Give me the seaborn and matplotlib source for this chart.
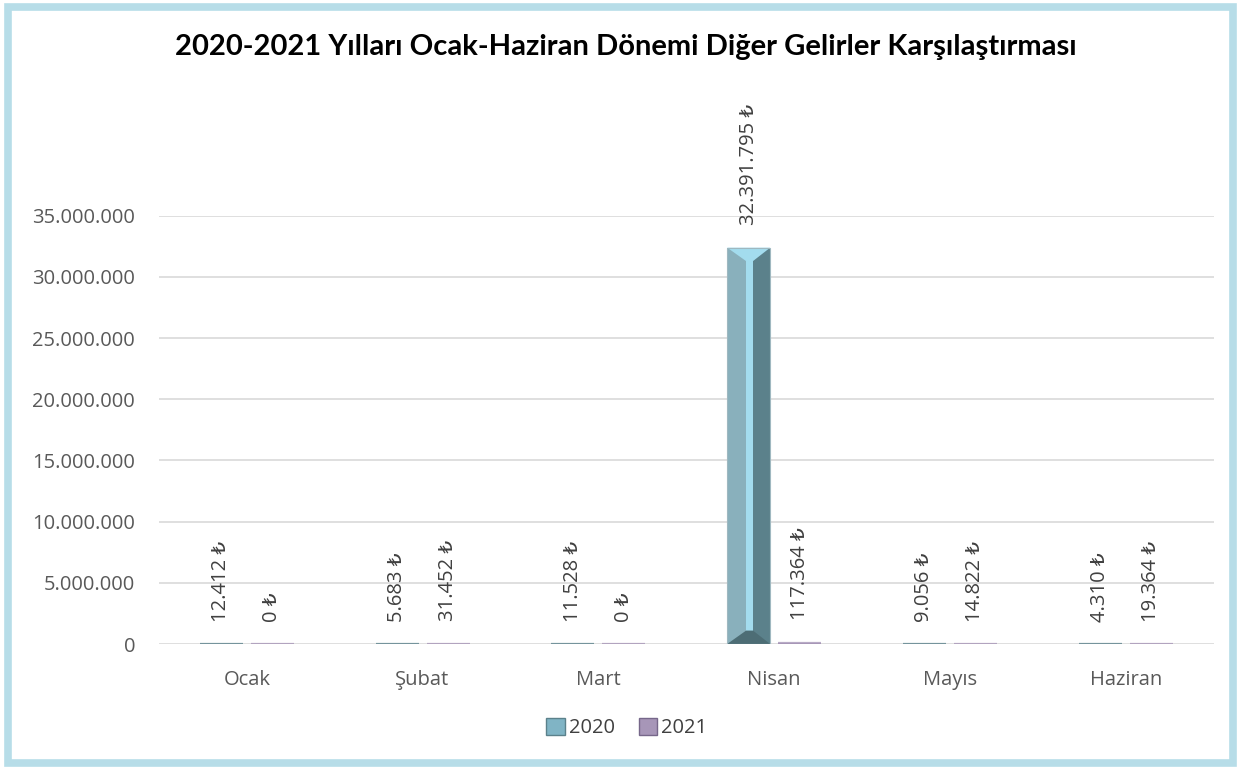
import pandas as pd
import seaborn as sns
import matplotlib.pyplot as plt
from matplotlib.patches import Rectangle, Polygon, Patch
from matplotlib.ticker import FuncFormatter

# data
months = ['Ocak', 'Şubat', 'Mart', 'Nisan', 'Mayıs', 'Haziran']
gelir_2020 = [12412, 5683, 11528, 32391795, 9056, 4310]
gelir_2021 = [0, 31452, 0, 117364, 14822, 19364]
years = ['2020', '2021']

df = pd.DataFrame({
    'ay': months * 2,
    'yil': ['2020'] * 6 + ['2021'] * 6,
    'gelir': gelir_2020 + gelir_2021,
})

# (light, mid, dark, darker) per year
shades = {
    '2020': ('#a3dcee', '#80b4c5', '#5b818b', '#4d6d75'),
    '2021': ('#d6c8e6', '#a796b8', '#76678a', '#5f526f'),
}

sns.set_theme(style='white')
plt.rcParams['font.family'] = ['Open Sans', 'DejaVu Sans']

fig = plt.figure(figsize=(12.41, 7.69), dpi=100)
ax = fig.add_axes([0.128, 0.1625, 0.85, 0.557])

sns.barplot(data=df, x='ay', y='gelir', hue='yil', order=months,
            hue_order=years, palette=[shades[y][1] for y in years],
            width=0.58, gap=0.155, ax=ax, legend=False,
            edgecolor='none', linewidth=0)

ax.set_ylim(0, 35000000)
ax.set_xlim(-0.5, 5.5)
ax.set_yticks(range(0, 35000001, 5000000))
ax.yaxis.set_major_formatter(FuncFormatter(lambda v, p: f'{int(v):,}'.replace(',', '.')))
ax.grid(axis='y', color='#d9d9d9', linewidth=1.2)
ax.set_axisbelow(True)
for s in ax.spines.values():
    s.set_visible(False)
ax.tick_params(axis='both', length=0, labelsize=14.5, labelcolor='#595959')
ax.tick_params(axis='x', pad=19)
ax.tick_params(axis='y', pad=17)
ax.set_xlabel('')
ax.set_ylabel('')

# bevel look, built from each bar's own geometry
d = 1.1e6
for container, yr in zip(ax.containers, years):
    light, mid, dark, darker = shades[yr]
    for bar in container:
        x0, w, h = bar.get_x(), bar.get_width(), bar.get_height()
        x1 = x0 + w
        if h > 3 * d:
            xs0, xs1 = x0 + 0.44 * w, x0 + 0.6 * w
            ax.add_patch(Rectangle((xs1, 0), x1 - xs1, h, color=dark, lw=0))
            ax.add_patch(Rectangle((xs0, 0), xs1 - xs0, h, color=light, lw=0))
            ax.add_patch(Polygon([(x0, h), (x1, h), (xs1, h - d), (xs0, h - d)],
                                 color=light, lw=0))
            ax.add_patch(Polygon([(x0, 0), (x1, 0), (xs1, d), (xs0, d)],
                                 color=darker, lw=0))
            ax.add_patch(Rectangle((x0, 0), w, h, fill=False, ec='#9fb8c0', lw=0.8))
        else:
            ax.plot([x0, x1], [h, h], color=mid if yr == '2021' else dark,
                    lw=1.6, solid_capstyle='butt', alpha=0.8)

    ax.bar_label(container,
                 labels=[f'{int(v):,}'.replace(',', '.') + ' ₺' for v in container.datavalues],
                 rotation=90, padding=16, fontsize=14.5, color='#404040',
                 family=['Open Sans', 'DejaVu Sans'], clip_on=False)

fig.suptitle('2020-2021 Yılları Ocak-Haziran Dönemi Diğer Gelirler Karşılaştırması',
             x=0.504, y=0.939, va='center', fontsize=21, fontweight='bold',
             color='black', family=['Lato', 'DejaVu Sans'])

handles = [Patch(facecolor=shades[y][1], edgecolor=shades[y][2]) for y in years]
fig.legend(handles, years, loc='center', bbox_to_anchor=(0.505, 0.053), ncol=2,
           frameon=False, fontsize=14.5, handlelength=0.9, handleheight=0.9,
           handletextpad=0.2, columnspacing=1.2, labelcolor='#404040')

# outer border
fig.patches.append(Rectangle((0.0065, 0.008), 0.987, 0.983, transform=fig.transFigure,
                             fill=False, ec='#b7dde8', lw=5.5))

plt.savefig('out.png', dpi=100)
